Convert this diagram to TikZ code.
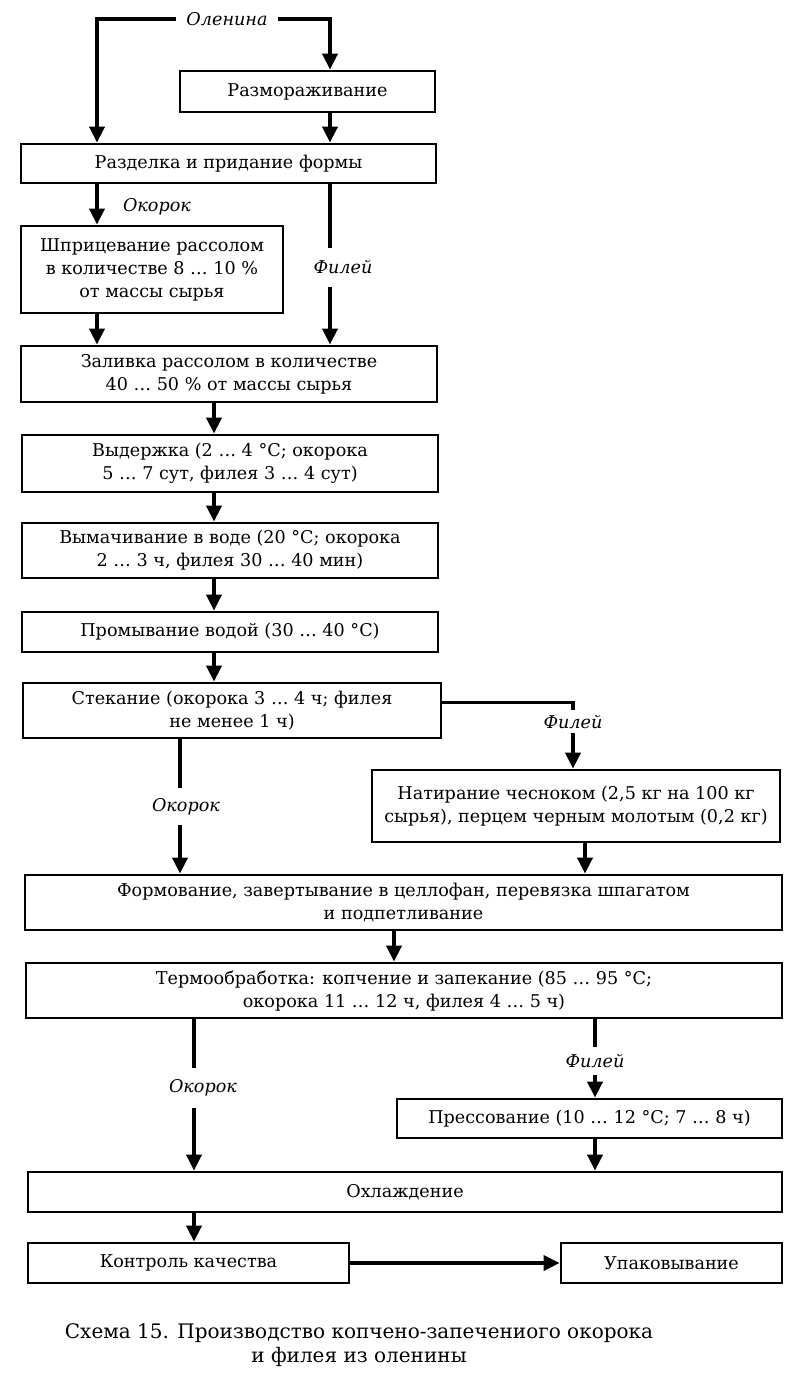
\documentclass[tikz,border=0pt]{standalone}
\usepackage{fontspec}
\setmainfont{DejaVu Serif}
\usetikzlibrary{arrows.meta}
\begin{document}
\begin{tikzpicture}
    [x=1pt, y=-1pt,
    box/.style={draw=black, line width=2.8pt, align=center, inner sep=0pt, font=\fontsize{17.6}{23}\selectfont},
    lbl/.style={inner sep=0pt, font=\fontsize{17.6}{23}\selectfont\itshape},
    flow/.style={line width=3.8pt, -{Triangle[length=16pt,width=15pt]}},
    plain/.style={line width=3.8pt}]

    \useasboundingbox (0,0) rectangle (800,1379);

    % columns of the connectors
    \coordinate (cL) at (97,0);
    \coordinate (cR) at (330,0);
    \coordinate (cM) at (214,0);
    \coordinate (cA) at (180,0);
    \coordinate (cB) at (194,0);
    \coordinate (cF) at (394,0);
    \coordinate (cN) at (585,0);

    % boxes
    \node[box, minimum width=255, minimum height=41] (razm) at (307.5,91.5) {Размораживание};
    \node[box, minimum width=415, minimum height=39] (razd) at (228.5,163.5) {Разделка и придание формы};
    \node[box, minimum width=262, minimum height=87] (shpr) at (152,269.5) {Шприцевание рассолом\\в количестве 8 … 10 \%\\от массы сырья};
    \node[box, minimum width=416, minimum height=56] (zal) at (229,374) {Заливка рассолом в количестве\\40 … 50 \% от массы сырья};
    \node[box, minimum width=416, minimum height=57] (vyd) at (230,463.5) {Выдержка (2 … 4 °C; окорока\\5 … 7 сут, филея 3 … 4 сут)};
    \node[box, minimum width=416, minimum height=55] (vym) at (230,550.5) {Вымачивание в воде (20 °C; окорока\\2 … 3 ч, филея 30 … 40 мин)};
    \node[box, minimum width=416, minimum height=40] (prom) at (230,632) {Промывание водой (30 … 40 °C)};
    \node[box, minimum width=418, minimum height=55] (stek) at (232,710.5) {Стекание (окорока 3 … 4 ч; филея\\не менее 1 ч)};
    \node[box, minimum width=408, minimum height=72] (nat) at (576,806) {Натирание чесноком (2,5 кг на 100 кг\\сырья), перцем черным молотым (0,2 кг)};
    \node[box, minimum width=757, minimum height=55] (form) at (403.5,902.5) {Формование, завертывание в целлофан, перевязка шпагатом\\и подпетливание};
    \node[box, minimum width=756, minimum height=55] (term) at (404,990.5) {Термообработка: копчение и запекание (85 … 95 °C;\\окорока 11 … 12 ч, филея 4 … 5 ч)};
    \node[box, minimum width=385, minimum height=39] (press) at (589.5,1118.5) {Прессование (10 … 12 °C; 7 … 8 ч)};
    \node[box, minimum width=754, minimum height=40] (ohl) at (405,1192) {Охлаждение};
    \node[box, minimum width=321, minimum height=40] (kontr) at (188.5,1263) {Контроль качества};
    \node[box, minimum width=221, minimum height=40] (upak) at (671.5,1263) {Упаковывание};

    % labels
    \node[lbl, inner xsep=10pt] (olen) at (227,19) {Оленина};
    \node[lbl] (ok1) at (157,207) {Окорок};
    \node[lbl, minimum height=39] (fil1) at (343,267.5) {Филей};
    \node[lbl, minimum height=23] (fil2) at (573,721.5) {Филей};
    \node[lbl, minimum height=37] (ok2) at (186,806.5) {Окорок};
    \node[lbl, minimum height=40] (ok3) at (203,1088) {Окорок};
    \node[lbl, minimum height=28] (fil3) at (595,1061) {Филей};

    \node[align=center, inner sep=0pt, font=\fontsize{20}{24}\selectfont] (capt) at (359,1345)
        {Схема 15. Производство копчено-запечениого окорока\\и филея из оленины};

    % connectors
    \draw[flow] (olen.west) -| (razd.north -| cL);
    \draw[flow] (olen.east) -| (razm.north -| cR);
    \draw[flow] (razm.south -| cR) -- (razd.north -| cR);
    \draw[flow] (razd.south -| cL) -- (shpr.north -| cL);
    \draw[plain] (razd.south -| cR) -- (fil1.north -| cR);
    \draw[flow] (fil1.south -| cR) -- (zal.north -| cR);
    \draw[flow] (shpr.south -| cL) -- (zal.north -| cL);
    \draw[flow] (zal.south -| cM) -- (vyd.north -| cM);
    \draw[flow] (vyd.south -| cM) -- (vym.north -| cM);
    \draw[flow] (vym.south -| cM) -- (prom.north -| cM);
    \draw[flow] (prom.south -| cM) -- (stek.north -| cM);
    \draw[plain] ([yshift=8pt]stek.east) -| (fil2.north);
    \draw[flow] (fil2.south) -- (nat.north -| fil2);
    \draw[plain] (stek.south -| cA) -- (ok2.north -| cA);
    \draw[flow] (ok2.south -| cA) -- (form.north -| cA);
    \draw[flow] (nat.south -| cN) -- (form.north -| cN);
    \draw[flow] (form.south -| cF) -- (term.north -| cF);
    \draw[plain] (term.south -| cB) -- (ok3.north -| cB);
    \draw[flow] (ok3.south -| cB) -- (ohl.north -| cB);
    \draw[plain] (term.south -| fil3) -- (fil3.north);
    \draw[flow] (fil3.south) -- (press.north -| fil3);
    \draw[flow] (press.south -| fil3) -- (ohl.north -| fil3);
    \draw[flow] (ohl.south -| cB) -- (kontr.north -| cB);
    \draw[flow] (kontr.east) -- (upak.west);

\end{tikzpicture}
\end{document}
